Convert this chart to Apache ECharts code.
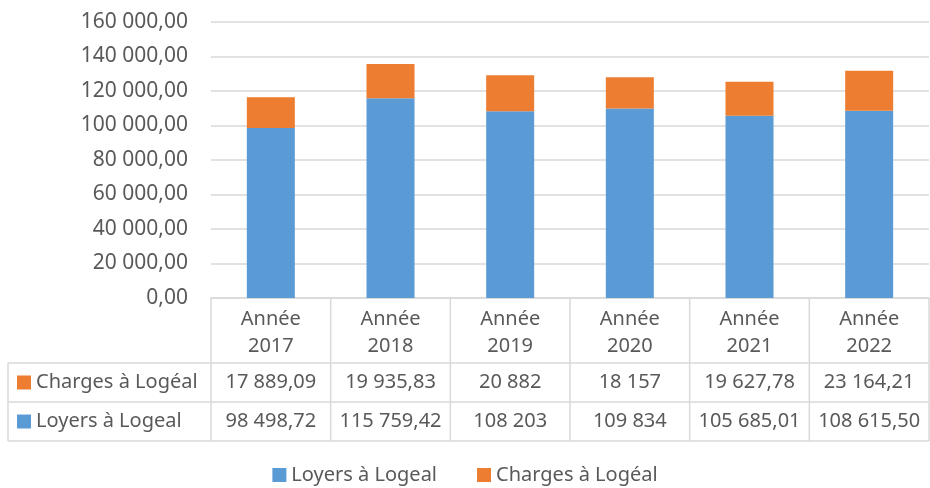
<!DOCTYPE html>
<html>
<head>
<meta charset="utf-8">
<script src="https://cdn.jsdelivr.net/npm/echarts@6/dist/echarts.min.js"></script>
<style>
    html, body { margin: 0; padding: 0; background: #fff; }
    #main { width: 930px; height: 488px; }
</style>
</head>
<body>
<div id="main"></div>
<script>
const years = ['Année\n2017', 'Année\n2018', 'Année\n2019', 'Année\n2020', 'Année\n2021', 'Année\n2022'];
const loyers = [98498.72, 115759.42, 108203, 109834, 105685.01, 108615.50];
const charges = [17889.09, 19935.83, 20882, 18157, 19627.78, 23164.21];
const loyersName = 'Loyers à Logeal';
const chargesName = 'Charges à Logéal';

const BLUE = '#5B9BD5';
const ORANGE = '#ED7D31';
const TEXT = '#595959';
const LINE = '#D9D9D9';
const FONT = 'Noto Sans';

// 98498.72 -> "98 498,72", 108203 -> "108 203"
function fmt(v, forceDec) {
    const dec = forceDec || !Number.isInteger(v);
    const parts = v.toFixed(dec ? 2 : 0).split('.');
    const intPart = parts[0].replace(/\B(?=(\d{3})+(?!\d))/g, ' ');
    return parts[1] ? intPart + ',' + parts[1] : intPart;
}

const chart = echarts.init(document.getElementById('main'));

const option = {
    animation: false,
    textStyle: { fontFamily: FONT },
    legend: {
        data: [loyersName, chargesName],
        left: 'center',
        top: 465,
        padding: 0,
        icon: 'rect',
        itemWidth: 14,
        itemHeight: 14,
        itemGap: 40,
        textStyle: { fontSize: 20, color: TEXT, fontFamily: FONT }
    },
    grid: {
        left: 211,
        right: 1,
        top: 22,
        bottom: 190
    },
    xAxis: {
        type: 'category',
        data: years,
        axisLine: { show: true, lineStyle: { color: LINE, width: 1.5 } },
        axisTick: { show: false },
        splitLine: { show: false },
        axisLabel: {
            margin: 8,
            fontSize: 20,
            lineHeight: 27,
            color: TEXT,
            fontFamily: FONT
        }
    },
    yAxis: {
        type: 'value',
        min: 0,
        max: 160000,
        interval: 20000,
        axisLine: { show: false },
        axisTick: { show: false },
        splitLine: { lineStyle: { color: LINE, width: 1.5 } },
        axisLabel: {
            margin: 23,
            fontSize: 21,
            color: TEXT,
            fontFamily: FONT,
            formatter: v => fmt(v, true)
        }
    },
    series: [
        {
            name: loyersName,
            type: 'bar',
            stack: 'total',
            barWidth: 48,
            itemStyle: { color: BLUE },
            data: loyers
        },
        {
            name: chargesName,
            type: 'bar',
            stack: 'total',
            barWidth: 48,
            itemStyle: { color: ORANGE },
            data: charges
        }
    ]
};

chart.setOption(option);

// data table under the plot
const c0 = chart.convertToPixel({ xAxisIndex: 0 }, 0);
const c1 = chart.convertToPixel({ xAxisIndex: 0 }, 1);
const band = c1 - c0;
const yBase = chart.convertToPixel({ yAxisIndex: 0 }, 0);
const rowTop = yBase + 65;
const rowH = 39;
const tableLeft = 8;
const firstEdge = c0 - band / 2;
const lastEdge = c0 + band * (years.length - 0.5);

const graphics = [];
const lineStyle = { stroke: LINE, lineWidth: 1.5 };

// horizontal lines
for (let r = 0; r <= 2; r++) {
    const y = rowTop + r * rowH;
    graphics.push({ type: 'line', shape: { x1: tableLeft, y1: y, x2: lastEdge, y2: y }, style: lineStyle });
}
// left border of the label column
graphics.push({ type: 'line', shape: { x1: tableLeft, y1: rowTop, x2: tableLeft, y2: rowTop + 2 * rowH }, style: lineStyle });
// column borders
for (let i = 0; i <= years.length; i++) {
    const x = firstEdge + i * band;
    graphics.push({ type: 'line', shape: { x1: x, y1: yBase, x2: x, y2: rowTop + 2 * rowH }, style: lineStyle });
}

const rows = [
    { name: chargesName, color: ORANGE, values: charges },
    { name: loyersName, color: BLUE, values: loyers }
];
rows.forEach((row, r) => {
    const cy = rowTop + r * rowH + rowH / 2;
    graphics.push({ type: 'rect', shape: { x: 17, y: cy - 7, width: 14, height: 14 }, style: { fill: row.color } });
    graphics.push({
        type: 'text', x: 36, y: cy,
        style: { text: row.name, fill: TEXT, font: '20px "Noto Sans"', textVerticalAlign: 'middle', verticalAlign: 'middle' }
    });
    row.values.forEach((v, i) => {
        graphics.push({
            type: 'text', x: c0 + i * band, y: cy,
            style: { text: fmt(v), fill: TEXT, font: '20px "Noto Sans"', align: 'center', textAlign: 'center', verticalAlign: 'middle', textVerticalAlign: 'middle' }
        });
    });
});

chart.setOption({ graphic: { elements: graphics } });
window.addEventListener('resize', () => chart.resize());
</script>
</body>
</html>
